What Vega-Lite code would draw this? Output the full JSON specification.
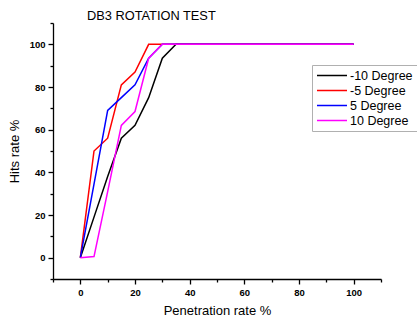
{
  "$schema": "https://vega.github.io/schema/vega-lite/v6.json",
  "width": 328,
  "height": 256,
  "autosize": "none",
  "padding": {"left": 53, "top": 23, "right": 36, "bottom": 43},
  "background": "white",
  "config": {
    "view": {"stroke": null},
    "font": "Liberation Sans",
    "axis": {
      "domainColor": "#000000",
      "domainWidth": 1.3,
      "tickColor": "#000000",
      "tickWidth": 1.3,
      "grid": false,
      "labelFont": "Liberation Sans",
      "labelFontWeight": "bold",
      "labelFontSize": 9.5,
      "labelColor": "#000000",
      "titleFont": "Liberation Sans",
      "titleFontWeight": "normal",
      "titleFontSize": 13,
      "titleColor": "#000000"
    }
  },
  "title": {
    "text": "DB3 ROTATION TEST",
    "anchor": "start",
    "frame": "group",
    "dx": 34,
    "dy": 15,
    "offset": 5,
    "baseline": "alphabetic",
    "font": "Liberation Sans",
    "fontSize": 12.8,
    "fontWeight": "normal",
    "color": "#000000"
  },
  "data": {
    "values": [
      {"series": "-10 Degree", "penetration": 0, "hits": 0},
      {"series": "-10 Degree", "penetration": 5, "hits": 19},
      {"series": "-10 Degree", "penetration": 10, "hits": 38},
      {"series": "-10 Degree", "penetration": 15, "hits": 56},
      {"series": "-10 Degree", "penetration": 20, "hits": 62},
      {"series": "-10 Degree", "penetration": 25, "hits": 75},
      {"series": "-10 Degree", "penetration": 30, "hits": 93.5},
      {"series": "-10 Degree", "penetration": 35, "hits": 100},
      {"series": "-10 Degree", "penetration": 100, "hits": 100},
      {"series": "-5 Degree", "penetration": 0, "hits": 0},
      {"series": "-5 Degree", "penetration": 5, "hits": 50},
      {"series": "-5 Degree", "penetration": 10, "hits": 56},
      {"series": "-5 Degree", "penetration": 15, "hits": 81},
      {"series": "-5 Degree", "penetration": 20, "hits": 87},
      {"series": "-5 Degree", "penetration": 25, "hits": 100},
      {"series": "-5 Degree", "penetration": 100, "hits": 100},
      {"series": "5 Degree", "penetration": 0, "hits": 0},
      {"series": "5 Degree", "penetration": 5, "hits": 34.5},
      {"series": "5 Degree", "penetration": 10, "hits": 69},
      {"series": "5 Degree", "penetration": 15, "hits": 75},
      {"series": "5 Degree", "penetration": 20, "hits": 81},
      {"series": "5 Degree", "penetration": 25, "hits": 93.5},
      {"series": "5 Degree", "penetration": 30, "hits": 100},
      {"series": "5 Degree", "penetration": 100, "hits": 100},
      {"series": "10 Degree", "penetration": 0, "hits": 0},
      {"series": "10 Degree", "penetration": 5, "hits": 0.5},
      {"series": "10 Degree", "penetration": 10, "hits": 31},
      {"series": "10 Degree", "penetration": 15, "hits": 62},
      {"series": "10 Degree", "penetration": 20, "hits": 68.5},
      {"series": "10 Degree", "penetration": 25, "hits": 93.5},
      {"series": "10 Degree", "penetration": 30, "hits": 100},
      {"series": "10 Degree", "penetration": 100, "hits": 100}
    ]
  },
  "layer": [
    {
      "mark": {"type": "line", "strokeWidth": 1.5},
      "encoding": {
        "x": {
          "field": "penetration",
          "type": "quantitative",
          "scale": {"domain": [-10, 110], "nice": false, "zero": false},
          "axis": {
            "values": [0, 20, 40, 60, 80, 100],
            "tickSize": 5,
            "labelPadding": 3,
            "title": "Penetration rate %",
            "titlePadding": 8
          }
        },
        "y": {
          "field": "hits",
          "type": "quantitative",
          "scale": {"domain": [-10, 110], "nice": false, "zero": false},
          "axis": {
            "values": [0, 20, 40, 60, 80, 100],
            "tickSize": 5,
            "labelPadding": 3,
            "title": "Hits rate %",
            "titlePadding": 8
          }
        },
        "color": {
          "field": "series",
          "type": "nominal",
          "sort": null,
          "scale": {
            "domain": ["-10 Degree", "-5 Degree", "5 Degree", "10 Degree"],
            "range": ["#000000", "#ff0000", "#0000ff", "#ff00ff"]
          },
          "legend": {
            "orient": "none",
            "legendX": 259,
            "legendY": 42,
            "title": null,
            "strokeColor": "#b0b0b0",
            "fillColor": "white",
            "padding": 4,
            "symbolType": "stroke",
            "symbolSize": 900,
            "clipHeight": 13,
            "symbolStrokeWidth": 1.5,
            "labelFont": "Liberation Sans",
            "labelFontSize": 12.5,
            "labelColor": "#000000",
            "labelOffset": 2,
            "rowPadding": 2
          }
        }
      }
    },
    {
      "mark": {"type": "point", "opacity": 0},
      "encoding": {
        "x": {
          "field": "penetration",
          "type": "quantitative",
          "axis": {
            "orient": "bottom",
            "values": [-10, 10, 30, 50, 70, 90, 110],
            "tickSize": 3,
            "labels": false,
            "domain": false,
            "title": null
          }
        },
        "y": {
          "field": "hits",
          "type": "quantitative",
          "axis": {
            "orient": "left",
            "values": [-10, 10, 30, 50, 70, 90, 110],
            "tickSize": 3,
            "labels": false,
            "domain": false,
            "title": null
          }
        }
      }
    }
  ],
  "resolve": {"axis": {"x": "independent", "y": "independent"}}
}
